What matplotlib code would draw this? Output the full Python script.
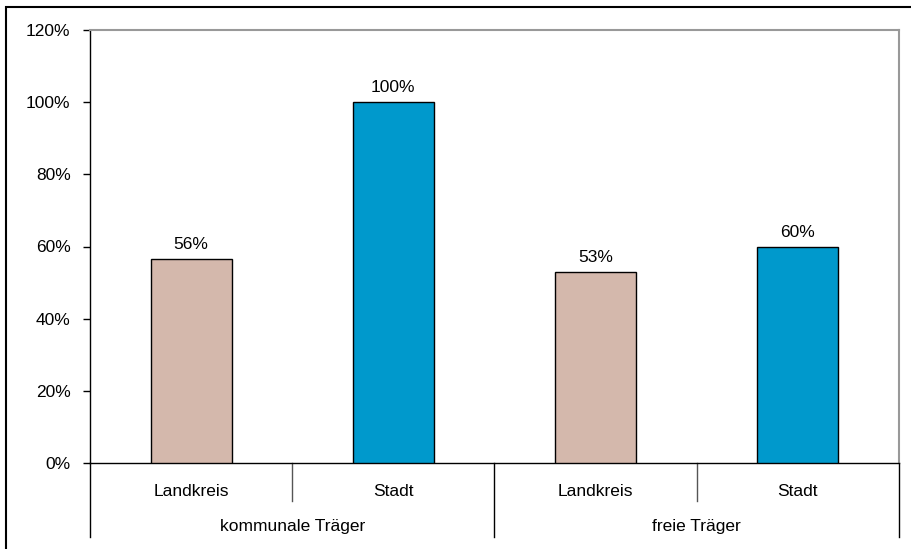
import matplotlib.pyplot as plt
from matplotlib.patches import Rectangle
from matplotlib.lines import Line2D

plt.rcParams['font.family'] = ['Liberation Sans', 'DejaVu Sans']

# data
gruppen = ['kommunale Träger', 'freie Träger']
kategorien = ['Landkreis', 'Stadt', 'Landkreis', 'Stadt']
werte = [56.5, 100, 53, 60]
beschriftung = ['56%', '100%', '53%', '60%']
farben = ['#D4B8AC', '#0099CC', '#D4B8AC', '#0099CC']

fs = 12.5
W, H = 912, 549
fig = plt.figure(figsize=(W / 100, H / 100), dpi=100)

# outer frame of the chart object
fig.add_artist(Rectangle((6 / W, -0.1), 1.2, 1 - 7 / H + 0.1, transform=fig.transFigure,
                         fill=False, edgecolor='black', linewidth=1.5))

ax = fig.add_axes([90 / W, (H - 463) / H, 809 / W, 433 / H])

x = range(len(werte))
ax.bar(x, werte, width=0.4, color=farben, edgecolor='black', linewidth=1, zorder=3)
for i, v in enumerate(werte):
    ax.annotate(beschriftung[i], (i, v), xytext=(0, 5), textcoords='offset points',
                ha='center', va='bottom', fontsize=fs)

ax.set_xlim(-0.5, 3.5)
ax.set_ylim(0, 120)
ax.set_yticks(range(0, 121, 20))
ax.set_yticklabels([f'{t}%' for t in range(0, 121, 20)], fontsize=fs)
ax.tick_params(axis='y', direction='out', length=5, width=1, pad=9)
ax.set_xticks([])

for s in ['top', 'right']:
    ax.spines[s].set_color('#999999')
    ax.spines[s].set_linewidth(1.5)
for s in ['left', 'bottom']:
    ax.spines[s].set_color('black')
    ax.spines[s].set_linewidth(1)

# two-level category axis
tr = ax.get_xaxis_transform()
for xs in [0.5, 2.5]:
    ax.add_line(Line2D([xs, xs], [0, -38 / 433], transform=tr, color='#555555',
                       linewidth=1, clip_on=False))
for xs in [-0.5, 1.5, 3.5]:
    ax.add_line(Line2D([xs, xs], [0, -74 / 433], transform=tr, color='black',
                       linewidth=1, clip_on=False))
for i, k in enumerate(kategorien):
    ax.text(i, -28 / 433, k, transform=tr, ha='center', va='center', fontsize=fs)
for j, g in enumerate(gruppen):
    ax.text(2 * j + 0.5, -63 / 433, g, transform=tr, ha='center', va='center', fontsize=fs)

plt.savefig('out.png', dpi=100)
